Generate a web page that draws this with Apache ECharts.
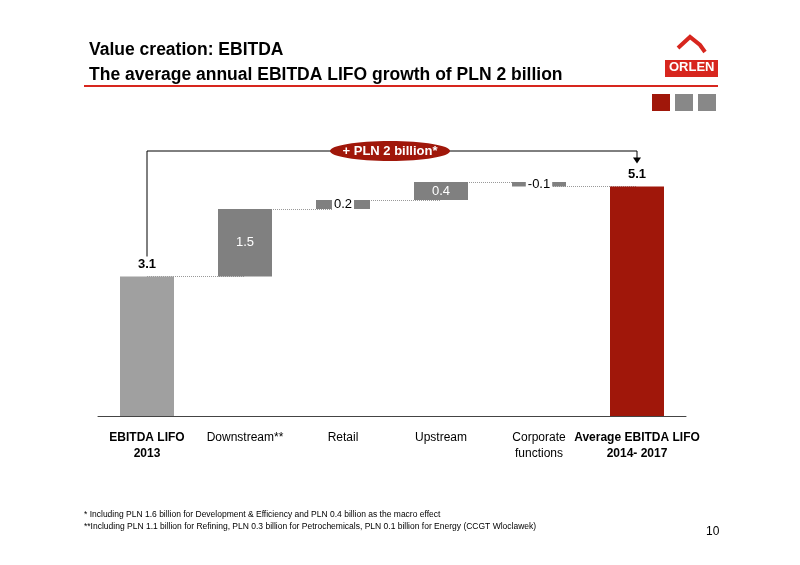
<!DOCTYPE html>
<html><head><meta charset="utf-8">
<script src="https://cdn.jsdelivr.net/npm/echarts@6/dist/echarts.min.js"></script>
<style>html,body{margin:0;padding:0;background:#fff}#c{width:800px;height:565px}</style>
</head><body><div id="c"></div>
<script>
// 数据
const categories = ['EBITDA LIFO\n2013', 'Downstream**', 'Retail', 'Upstream', 'Corporate\nfunctions', 'Average EBITDA LIFO\n2014- 2017'];
const deltas = [3.1, 1.5, 0.2, 0.4, -0.1, 5.1];
const labels = ['3.1', '1.5', '0.2', '0.4', '-0.1', '5.1'];
const colors = ['#a0a0a0', '#808080', '#808080', '#808080', '#808080', '#a0170a'];

// 瀑布图：透明底座 + 可见部分
const base = [], vis = [], levels = [];
let run = 0;
deltas.forEach((d, i) => {
  if (i === 0 || i === deltas.length - 1) { base.push(0); vis.push(d); run = d; }
  else { base.push(Math.min(run, run + d)); vis.push(Math.abs(d)); run += d; }
  levels.push(run);
});

const chart = echarts.init(document.getElementById('c'));
const lab = (i) => {
  if (i === 0 || i === 5) return { show: true, position: 'top', color: '#000', fontWeight: 'bold', fontSize: 13, distance: 6 };
  if (i === 1 || i === 3) return { show: true, position: 'inside', color: '#fff', fontSize: 13 };
  return { show: true, position: 'inside', color: '#000', fontSize: 13, backgroundColor: '#fff', padding: [1, 2] };
};
const connectors = [];
for (let i = 0; i < 5; i++) connectors.push([{ coord: [i, levels[i]] }, { coord: [i + 1, levels[i]] }]);

chart.setOption({
  animation: false,
  textStyle: { fontFamily: 'Liberation Sans, Arial, sans-serif' },
  title: [
    { text: 'Value creation: EBITDA\nThe average annual EBITDA LIFO growth of PLN 2 billion', left: 84, top: 33,
      textStyle: { fontSize: 17.5, fontWeight: 'bold', color: '#000', lineHeight: 25 } }
  ],
  grid: { left: 98, right: 114, top: 146, bottom: 149 },
  xAxis: { type: 'category', data: categories,
    axisLine: { lineStyle: { color: '#444', width: 1 } }, axisTick: { show: false },
    axisLabel: { interval: 0, margin: 14, fontSize: 12, color: '#000', lineHeight: 16,
      formatter: (v, i) => (i === 0 || i === 5) ? '{b|' + v.split('\n').join('}\n{b|') + '}' : v,
      rich: { b: { fontWeight: 'bold', fontSize: 12, color: '#000', lineHeight: 16 } } } },
  yAxis: { type: 'value', min: 0, max: 6, show: false },
  series: [
    { type: 'bar', stack: 'w', data: base, itemStyle: { color: 'transparent' }, barWidth: 54, silent: true,
      markLine: { symbol: 'none', silent: true, z: 1, label: { show: false },
        lineStyle: { type: 'dotted', color: '#999', width: 1 }, data: connectors } },
    { type: 'bar', stack: 'w', barWidth: 54, z: 3,
      data: vis.map((v, i) => ({ value: v, itemStyle: { color: colors[i] }, label: lab(i) })),
      label: { formatter: p => labels[p.dataIndex] } }
  ]
});

// 顶部括号与标注
const p0 = chart.convertToPixel({ xAxisIndex: 0, yAxisIndex: 0 }, [0, levels[0]]);
const p5 = chart.convertToPixel({ xAxisIndex: 0, yAxisIndex: 0 }, [5, levels[5]]);
const yTop = 151;
chart.setOption({ graphic: [
  { type: 'rect', left: 84, top: 85, shape: { width: 634, height: 2 }, style: { fill: '#d7261e' } },
  { type: 'rect', left: 652, top: 94, shape: { width: 18, height: 17 }, style: { fill: '#a0170a' } },
  { type: 'rect', left: 675, top: 94, shape: { width: 18, height: 17 }, style: { fill: '#888' } },
  { type: 'rect', left: 698, top: 94, shape: { width: 18, height: 17 }, style: { fill: '#888' } },
  { type: 'rect', left: 665, top: 60, shape: { width: 53, height: 17 }, style: { fill: '#d7261e' } },
  { type: 'text', left: 669, top: 61, style: { text: 'ORLEN', fill: '#fff', font: 'bold 13px Liberation Sans' } },
  { type: 'polyline', shape: { points: [[678, 48], [690, 37], [700, 45], [705, 52]] }, style: { stroke: '#d7261e', lineWidth: 4, fill: null } },
  { type: 'polyline', shape: { points: [[p0[0], p0[1] - 20], [p0[0], yTop], [p5[0], yTop], [p5[0], p5[1] - 26]] },
    style: { stroke: '#000', lineWidth: 1, fill: null } },
  { type: 'polygon', shape: { points: [[p5[0] - 4, p5[1] - 29], [p5[0] + 4, p5[1] - 29], [p5[0], p5[1] - 23]] }, style: { fill: '#000' } },
  { type: 'ellipse', shape: { cx: 390, cy: yTop, rx: 60, ry: 10 }, style: { fill: '#a0170a' } },
  { type: 'text', x: 390, y: yTop, style: { text: '+ PLN 2 billion*', fill: '#fff', font: 'bold 13px Liberation Sans', align: 'center', verticalAlign: 'middle' } },
  { type: 'text', left: 84, top: 509, style: { text: '* Including PLN 1.6 billion for Development & Efficiency and PLN 0.4 billion as the macro effect\n**Including PLN 1.1 billion for Refining, PLN 0.3 billion for Petrochemicals, PLN 0.1 billion for Energy (CCGT Wloclawek)',
    fill: '#000', font: '8.5px Liberation Sans', lineHeight: 12 } },
  { type: 'text', left: 706, top: 526, style: { text: '10', fill: '#000', font: '12px Liberation Sans' } }
] });
</script></body></html>
